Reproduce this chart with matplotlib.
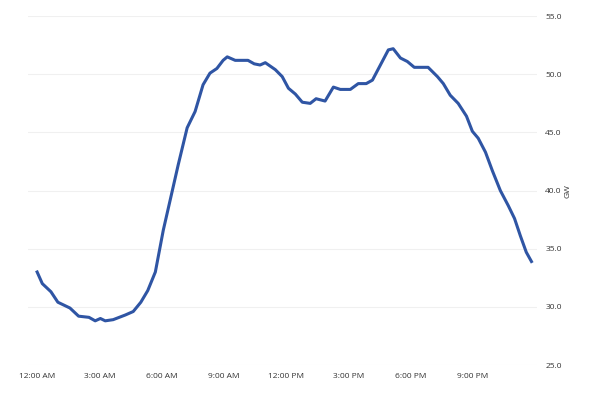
import matplotlib
matplotlib.use("Agg")
import matplotlib.pyplot as plt

# time of day (HH:MM) and load in GW
times = ["00:00", "00:15", "00:40", "01:00", "01:35", "02:00", "02:30", "02:48", "03:03",
         "03:17", "03:40", "04:15", "04:38", "05:00", "05:20", "05:42", "06:05", "06:25",
         "06:48", "07:14", "07:37", "08:00", "08:20", "08:40", "08:58", "09:10", "09:33",
         "09:56", "10:10", "10:28", "10:45", "11:00", "11:29", "11:49", "12:07", "12:27",
         "12:47", "13:10", "13:27", "13:53", "14:17", "14:37", "15:06", "15:29", "15:52",
         "16:10", "16:33", "16:56", "17:10", "17:31", "17:51", "18:11", "18:34", "18:51",
         "19:18", "19:35", "19:55", "20:18", "20:42", "20:59", "21:16", "21:37", "21:57",
         "22:20", "22:43", "23:01", "23:18", "23:35", "23:50"]
load_gw = [33.0, 32.0, 31.3, 30.4, 29.9, 29.2, 29.1, 28.8, 29.0,
           28.8, 28.9, 29.3, 29.6, 30.4, 31.4, 33.0, 36.6, 39.2,
           42.2, 45.4, 46.8, 49.1, 50.1, 50.5, 51.2, 51.5, 51.2,
           51.2, 51.2, 50.9, 50.8, 51.0, 50.4, 49.8, 48.8, 48.3,
           47.6, 47.5, 47.9, 47.7, 48.9, 48.7, 48.7, 49.2, 49.2,
           49.5, 50.8, 52.1, 52.2, 51.4, 51.1, 50.6, 50.6, 50.6,
           49.8, 49.2, 48.2, 47.5, 46.4, 45.1, 44.5, 43.3, 41.7,
           40.0, 38.7, 37.6, 36.1, 34.7, 33.9]

tick_hours = [0, 3, 6, 9, 12, 15, 18, 21]
tick_labels = ["12:00 AM", "3:00 AM", "6:00 AM", "9:00 AM",
               "12:00 PM", "3:00 PM", "6:00 PM", "9:00 PM"]
y_ticks = [25, 30, 35, 40, 45, 50, 55]

hours = [int(t[:2]) + int(t[3:]) / 60 for t in times]

plt.rcParams['font.family'] = ['Open Sans', 'DejaVu Sans']
fig = plt.figure(figsize=(6, 4.04), dpi=100)
ax = fig.add_axes([0.047, 0.0965, 0.848, 0.8635])

ax.plot(hours, load_gw, color="#2f55a4", linewidth=2.2, solid_joinstyle="round")

ax.set_xlim(-0.43, 24.1)
ax.set_ylim(25, 55)
ax.set_xticks(tick_hours)
ax.set_xticklabels(tick_labels)
ax.set_yticks(y_ticks)
ax.set_yticklabels([f"{v:.1f}" for v in y_ticks])
ax.yaxis.tick_right()
ax.yaxis.set_label_position("right")
ax.set_ylabel("GW", fontsize=6, color="#333333", labelpad=2)

ax.grid(axis="y", color="#f0f0f0", linewidth=0.8)
ax.grid(axis="x", visible=False)
ax.set_axisbelow(True)
for s in ax.spines.values():
    s.set_visible(False)
ax.tick_params(axis="both", length=0, labelsize=6, colors="#333333")
ax.tick_params(axis="x", pad=6)
ax.tick_params(axis="y", pad=6)

fig.savefig("out.png", dpi=100)
